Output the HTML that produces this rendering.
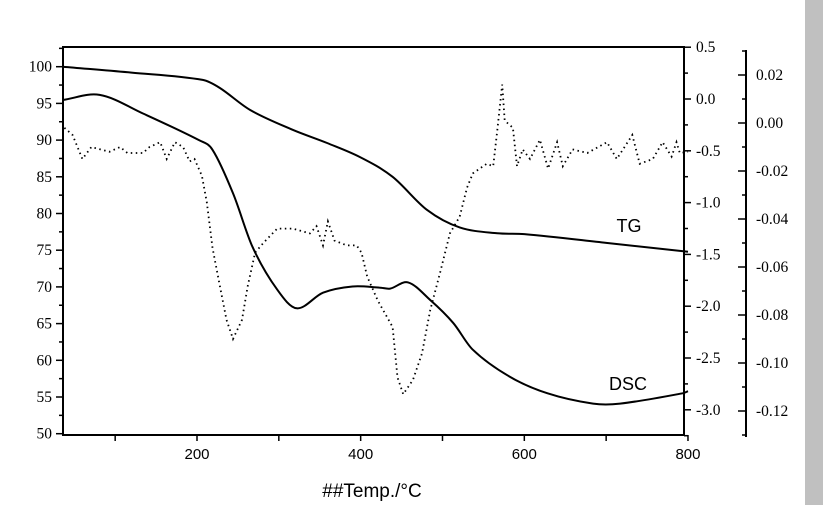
<!DOCTYPE html>
<html><head><meta charset="utf-8"><style>
body{margin:0;background:#fff;width:823px;height:505px;overflow:hidden}
svg{display:block}
.s{font-family:"Liberation Serif",serif;font-size:15.5px}
.a{font-family:"Liberation Sans",sans-serif}
</style></head><body>
<svg id="c" width="823" height="505">
<rect x="805" y="0" width="18" height="505" fill="#c0c0c0"/>
</svg>
<script>
const tgT=[36,120,207,228,265,317,359,399,439,481,521,567,600,700,800];
const tgV=[100,99.2,98.2,97.1,94.1,91.4,89.6,87.7,85,80.5,78.1,77.3,77.2,76,74.8];
const dscT=[36,81,134,203,219,244,268,298,322,354,390,423,436,458,485,513,537,582,628,684,717,794,800];
const dscV=[-0.01,0.04,-0.14,-0.40,-0.49,-0.91,-1.43,-1.84,-2.02,-1.87,-1.81,-1.82,-1.83,-1.77,-1.94,-2.16,-2.42,-2.68,-2.84,-2.94,-2.94,-2.84,-2.82];
const dtgT=[38,48,60,71,93,106,115,134,142,155,163,173,183,191,197,206,212,219,228,236,244,255,262,271,281,298,317,338,346,354,360,368,383,395,401,408,421,439,445,452,464,475,485,497,509,521,530,537,554,562,567,573,576,586,591,598,607,619,629,640,647,659,677,701,713,732,741,757,769,780,786,790,800];
const dtgV=[-0.002,-0.005,-0.015,-0.010,-0.012,-0.010,-0.0125,-0.0125,-0.010,-0.008,-0.015,-0.008,-0.010,-0.016,-0.015,-0.022,-0.033,-0.052,-0.068,-0.082,-0.090,-0.082,-0.068,-0.054,-0.050,-0.044,-0.044,-0.046,-0.043,-0.051,-0.041,-0.049,-0.051,-0.051,-0.054,-0.064,-0.074,-0.085,-0.106,-0.113,-0.107,-0.096,-0.078,-0.0625,-0.046,-0.039,-0.027,-0.021,-0.017,-0.018,-0.003,0.016,0.001,-0.002,-0.018,-0.011,-0.015,-0.007,-0.019,-0.008,-0.018,-0.011,-0.0125,-0.008,-0.015,-0.005,-0.017,-0.015,-0.008,-0.014,-0.008,-0.0125,-0.012];
const xTicks=[200,400,600,800];
const yTicks=[50,55,60,65,70,75,80,85,90,95,100];
const y1Ticks=[0.5,0,-0.5,-1,-1.5,-2,-2.5,-3];
const y2Ticks=[0.02,0,-0.02,-0.04,-0.06,-0.08,-0.10,-0.12];

const X=t=>197+(t-200)*0.8183;
const Y=v=>66.7+(100-v)*7.34;
const Y1=v=>99-v*103.6;
const Y2=v=>123-v/0.02*48;
const svg=document.getElementById('c');
const NS='http://www.w3.org/2000/svg';
function mk(tag,at,parent){const e=document.createElementNS(NS,tag);for(const k in at)e.setAttribute(k,at[k]);(parent||svg).appendChild(e);return e;}
function ln(x1,y1,x2,y2,w){return mk('line',{x1,y1,x2,y2,stroke:'#000','stroke-width':w||1.5});}
function txt(x,y,s,cls,anchor,size){const e=mk('text',{x,y,'class':cls,'text-anchor':anchor||'middle'});if(size)e.setAttribute('font-size',size);e.textContent=s;return e;}

let e=mk('rect',{x:63,y:47,width:621,height:388,fill:'none',stroke:'#000','stroke-width':2});


for(let t=100;t<=800;t+=100){e=ln(X(t),435,X(t),441,1.5);}
xTicks.forEach(t=>{e=txt(X(t),459,String(t),'a','middle',15);});
e=txt(372,497,'##Temp./°C','a','middle',19);


for(let v=50;v<=102.5;v+=2.5){const maj=v%5===0;e=ln(maj?56:59,Y(v),63,Y(v),1.5);}
yTicks.forEach(v=>{e=txt(52,Y(v)+5,String(v),'s','end');});
for(let v=-3.25;v<=0.5;v+=0.25){const maj=Math.abs(v*2-Math.round(v*2))<1e-6;e=ln(684,Y1(v),maj?691:688,Y1(v),1.5);}
y1Ticks.forEach(v=>{e=txt(696,Y1(v)+5,v.toFixed(1),'s','start');});
e=ln(746,50,746,437,2);


for(let k=-13;k<=3;k++){const v=k*0.01;if(Y2(v)<50||Y2(v)>437)continue;const maj=k%2===0;e=ln(maj?738:742,Y2(v),746,Y2(v),1.5);}
y2Ticks.forEach(v=>{e=txt(756,Y2(v)+5,v.toFixed(2),'s','start');});
function path(T,V,fy,attrs,name,smooth){
  const P=T.map((t,i)=>[X(t),fy(V[i])]);
  const n=P.length;
  const m=P.map((p,i)=>{const a=P[Math.max(0,i-1)],b=P[Math.min(n-1,i+1)];return (b[1]-a[1])/(b[0]-a[0]);});
  let d='M'+P[0][0].toFixed(1)+','+P[0][1].toFixed(1);
  for(let i=0;i<n-1;i++){
    const p1=P[i],p2=P[i+1];
    if(!smooth){d+=' L'+p2[0].toFixed(1)+','+p2[1].toFixed(1);continue;}
    const dx=(p2[0]-p1[0])/3;
    d+=' C'+(p1[0]+dx).toFixed(1)+','+(p1[1]+m[i]*dx).toFixed(1)+' '+(p2[0]-dx).toFixed(1)+','+(p2[1]-m[i+1]*dx).toFixed(1)+' '+p2[0].toFixed(1)+','+p2[1].toFixed(1);
  }
  const p=mk('path',Object.assign({d,fill:'none',stroke:'#000'},attrs));}
path(tgT,tgV,Y,{'stroke-width':2},'tg-line',true);
path(dscT,dscV,Y1,{'stroke-width':2},'dsc-line',true);
path(dtgT,dtgV,Y2,{'stroke-width':1.8,'stroke-dasharray':'1.5,3.5'},'dtg-line',false);
e=txt(629,232,'TG','a','middle',18);


e=txt(628,390,'DSC','a','middle',18);


</script>
</body></html>
